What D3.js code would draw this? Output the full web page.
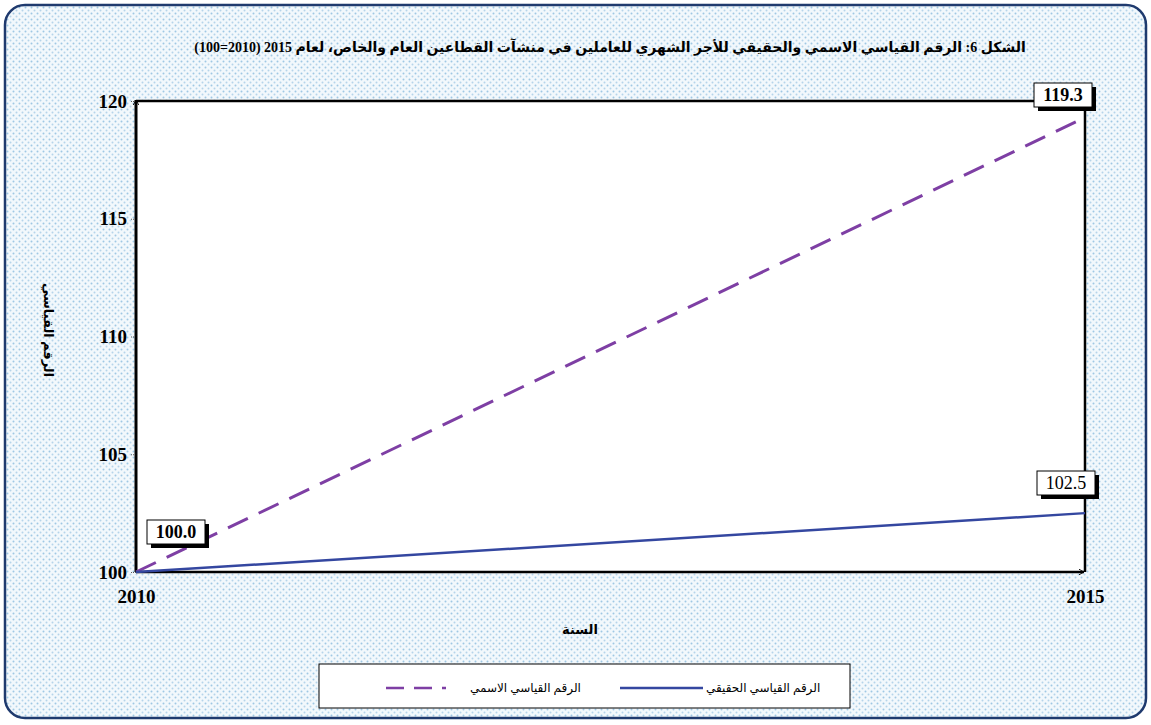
<!DOCTYPE html>
<html>
<head>
<meta charset="utf-8">
<script src="https://cdn.jsdelivr.net/npm/d3@7"></script>
<style>
body { margin: 0; background: #fff; }
svg { display: block; font-family: "Liberation Serif", "DejaVu Sans", serif; }
</style>
</head>
<body>
<svg id="chart" width="1151" height="725"></svg>
<script>
// data
var years = [2010, 2015];
var nominal = [100.0, 119.3];
var real = [100.0, 102.5];
var yTicks = [100, 105, 110, 115, 120];
var seriesNames = ["الرقم القياسي الاسمي", "الرقم القياسي الحقيقي"];

var svg = d3.select("#chart");

// dotted background
var defs = svg.append("defs");
var pat = defs.append("pattern").attr("id", "dots")
    .attr("width", 6).attr("height", 6).attr("patternUnits", "userSpaceOnUse");
pat.append("rect").attr("width", 6).attr("height", 6).attr("fill", "#f2f8fc");
pat.append("circle").attr("cx", 1.5).attr("cy", 1.5).attr("r", 1).attr("fill", "#9fc8e4");
pat.append("circle").attr("cx", 4.5).attr("cy", 4.5).attr("r", 1).attr("fill", "#b5d4ea");

defs.append("marker").attr("id", "arrow")
    .attr("viewBox", "0 0 10 10").attr("refX", 9).attr("refY", 5)
    .attr("markerWidth", 6).attr("markerHeight", 6).attr("orient", "auto")
    .attr("markerUnits", "userSpaceOnUse")
  .append("path").attr("d", "M0,0 L9,5 L0,10").attr("fill", "none")
    .attr("stroke", "#000").attr("stroke-width", 1.5);

svg.append("rect").attr("x", 5).attr("y", 5).attr("width", 1141).attr("height", 713)
    .attr("rx", 20).attr("fill", "url(#dots)").attr("stroke", "#1f3a6e").attr("stroke-width", 2.5);

var x = d3.scaleLinear().domain([2010, 2015]).range([136, 1085]);
var y = d3.scaleLinear().domain([100, 120]).range([572, 101]);

// plot area
svg.append("rect").attr("x", x(2010)).attr("y", y(120))
    .attr("width", x(2015) - x(2010)).attr("height", y(100) - y(120))
    .attr("fill", "#fff");
svg.append("line").attr("x1", x(2010)).attr("x2", x(2015)).attr("y1", y(120)).attr("y2", y(120))
    .attr("stroke", "#000").attr("stroke-width", 2.5);
svg.append("line").attr("x1", x(2015)).attr("x2", x(2015)).attr("y1", y(120)).attr("y2", y(100))
    .attr("stroke", "#000").attr("stroke-width", 2.5);

// title
svg.append("text").attr("x", 610).attr("y", 52).attr("text-anchor", "middle")
    .attr("direction", "rtl").attr("font-weight", "bold").attr("font-size", 14)
    .text("الشكل 6: الرقم القياسي الاسمي والحقيقي للأجر الشهري للعاملين في منشآت القطاعين العام والخاص، لعام 2015 (2010=100)");

// y axis
var yAxis = d3.axisLeft(y).tickValues(yTicks).tickSize(5).tickPadding(4).tickFormat(d3.format("d"));
var gy = svg.append("g").attr("transform", "translate(" + x(2010) + ",0)").call(yAxis);
gy.select(".domain").remove();
gy.selectAll(".tick line").attr("stroke", "#555").attr("stroke-dasharray", "1,1");
gy.selectAll(".tick text").attr("font-size", 19).attr("font-weight", "bold")
    .attr("font-family", "Liberation Serif, serif").attr("fill", "#000");
svg.append("line").attr("x1", x(2010)).attr("x2", x(2010)).attr("y1", y(100)).attr("y2", y(120) - 1)
    .attr("stroke", "#000").attr("stroke-width", 3).attr("marker-end", "url(#arrow)");

// x axis
var xAxis = d3.axisBottom(x).tickValues(years).tickSize(0).tickPadding(18).tickFormat(d3.format("d"));
var gx = svg.append("g").attr("transform", "translate(0," + y(100) + ")").call(xAxis);
gx.select(".domain").remove();
gx.selectAll(".tick text").attr("font-size", 19).attr("font-weight", "bold")
    .attr("font-family", "Liberation Serif, serif").attr("fill", "#000");
svg.append("line").attr("x1", x(2010)).attr("x2", x(2015) - 1).attr("y1", y(100)).attr("y2", y(100))
    .attr("stroke", "#000").attr("stroke-width", 2.5).attr("marker-end", "url(#arrow)");

// axis titles
svg.append("text").attr("x", 580).attr("y", 634).attr("text-anchor", "middle")
    .attr("font-size", 13).attr("font-weight", "bold").attr("direction", "rtl").text("السنة");
svg.append("text").attr("transform", "translate(44,330) rotate(90)").attr("text-anchor", "middle")
    .attr("font-size", 13).attr("font-weight", "bold").attr("direction", "rtl").text("الرقم القياسي");

// lines
var line = d3.line().x(function(d, i) { return x(years[i]); }).y(function(d) { return y(d); });
svg.append("path").datum(nominal).attr("d", line).attr("fill", "none")
    .attr("stroke", "#7e3fa4").attr("stroke-width", 3).attr("stroke-dasharray", "22,12");
svg.append("path").datum(real).attr("d", line).attr("fill", "none")
    .attr("stroke", "#3447a0").attr("stroke-width", 2.5);

// data labels
var labels = [
  { v: nominal[0], cx: x(years[0]) + 40, cy: 532, bold: true },
  { v: nominal[1], cx: x(years[1]) - 22, cy: 95, bold: true },
  { v: real[1], cx: x(years[1]) - 19, cy: 483, bold: false }
];
labels.forEach(function(l) {
  var w = 58, h = 24;
  svg.append("rect").attr("x", l.cx - w / 2 + 4).attr("y", l.cy - h / 2 + 4)
      .attr("width", w).attr("height", h).attr("fill", "#000");
  svg.append("rect").attr("x", l.cx - w / 2).attr("y", l.cy - h / 2)
      .attr("width", w).attr("height", h).attr("fill", "#fff").attr("stroke", "#000").attr("stroke-width", 1);
  svg.append("text").attr("x", l.cx).attr("y", l.cy + 6).attr("text-anchor", "middle")
      .attr("font-size", 18).attr("font-weight", l.bold ? "bold" : "normal")
      .attr("font-family", "Liberation Serif, serif").text(d3.format(".1f")(l.v));
});

// legend
svg.append("rect").attr("x", 319).attr("y", 664).attr("width", 531).attr("height", 44)
    .attr("fill", "#fff").attr("stroke", "#000").attr("stroke-width", 1);
svg.append("line").attr("x1", 386).attr("x2", 446).attr("y1", 688).attr("y2", 688)
    .attr("stroke", "#7e3fa4").attr("stroke-width", 2.5).attr("stroke-dasharray", "18,10");
svg.append("text").attr("x", 470).attr("y", 692).attr("text-anchor", "end").attr("direction", "rtl")
    .attr("font-size", 12).text(seriesNames[0]);
svg.append("line").attr("x1", 620).attr("x2", 703).attr("y1", 688).attr("y2", 688)
    .attr("stroke", "#3447a0").attr("stroke-width", 2.5);
svg.append("text").attr("x", 706).attr("y", 692).attr("text-anchor", "end").attr("direction", "rtl")
    .attr("font-size", 12).text(seriesNames[1]);
</script>
</body>
</html>
